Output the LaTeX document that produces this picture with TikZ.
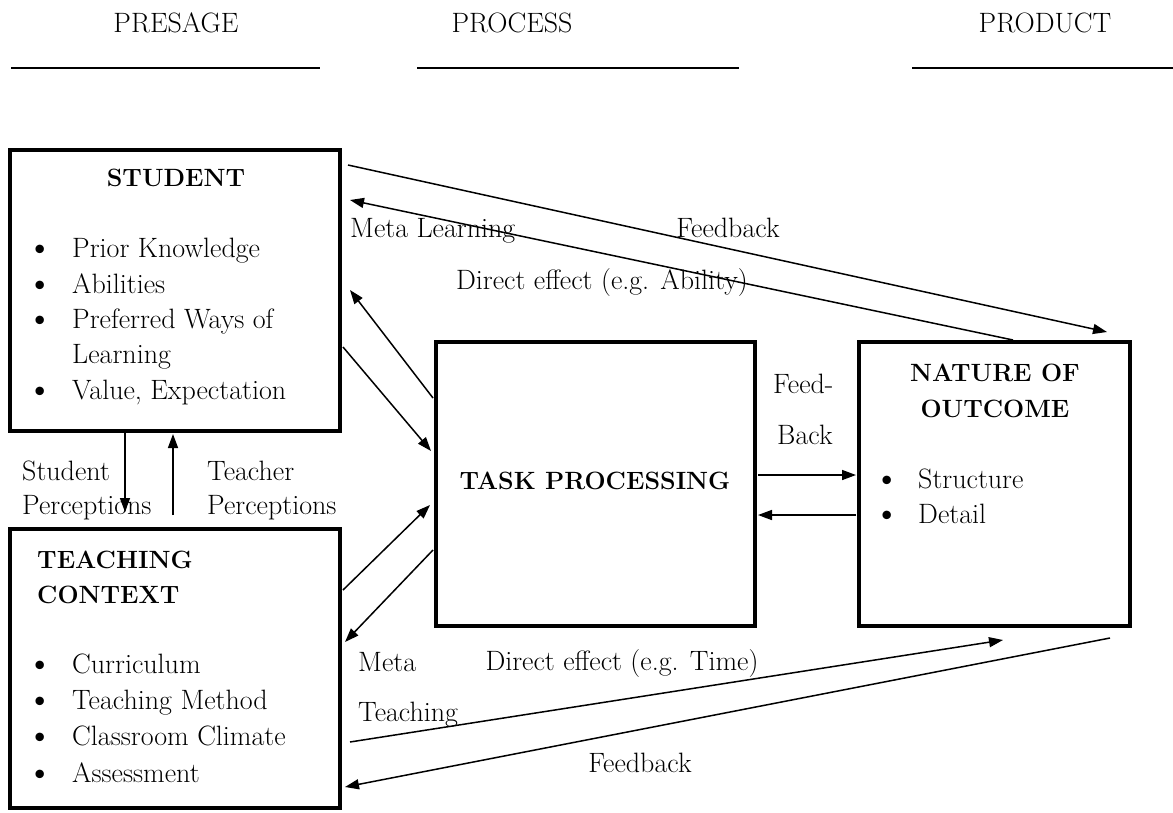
\documentclass[tikz,border=0pt]{standalone}
\usetikzlibrary{arrows.meta,positioning,calc}

\begin{document}
\begin{tikzpicture}[x=1pt, y=-1pt, font=\fontsize{28}{35}\selectfont,
  box/.style={draw, line width=4.5pt, inner sep=0pt},
  lbl/.style={anchor=base west, inner sep=0pt},
  mid/.style={anchor=base, inner sep=0pt},
  ttl/.style={anchor=base, inner sep=0pt, font=\fontsize{25}{35}\selectfont\bfseries},
  dot/.style={anchor=base, inner sep=0pt, font=\fontsize{38}{35}\selectfont},
  link/.style={line width=1.5pt, -{Triangle[length=14pt,width=10pt]}}]
  \useasboundingbox (0,0) rectangle (1173,812);

  % stage headings
  \node[mid] (presage) at (176,32) {PRESAGE};
  \node[mid] (process) at (512,32) {PROCESS};
  \node[mid] (product) at (1045,32) {PRODUCT};
  \draw[line width=1.8pt] (11,68) -- (320,68);
  \draw[line width=1.8pt] (417,68) -- (739,68);
  \draw[line width=1.8pt] (912,68) -- (1173,68);

  % boxes
  \node[box, minimum width=330pt, minimum height=281pt] (student) at (175,290.5) {};
  \node[box, minimum width=330pt, minimum height=279pt] (context) at (175,668.5) {};
  \node[box, minimum width=319pt, minimum height=284pt] (task) at (595.5,484) {};
  \node[box, minimum width=271pt, minimum height=284pt] (outcome) at (994.5,484) {};

  % student contents
  \node[ttl] (studentttl) at (176,186) {STUDENT};
  \foreach \y/\txt in {257/Prior Knowledge, 293/Abilities, 328/Preferred Ways of, 399/{Value, Expectation}} {
    \node[dot] at (40,\y+2) {\textbullet};
    \node[lbl] at (72,\y) {\txt};
  }
  \node[lbl] (learning) at (72,363) {Learning};

  % teaching context contents
  \node[lbl, font=\fontsize{25}{35}\selectfont\bfseries] (ctxa) at (37,568) {TEACHING};
  \node[lbl, font=\fontsize{25}{35}\selectfont\bfseries] (ctxb) at (37,603) {CONTEXT};
  \foreach \y/\txt in {673/Curriculum, 709/Teaching Method, 745/Classroom Climate, 782/Assessment} {
    \node[dot] at (40,\y+2) {\textbullet};
    \node[lbl] at (72,\y) {\txt};
  }

  % task processing
  \node[ttl] (taskttl) at (595,489) {TASK PROCESSING};

  % nature of outcome
  \node[ttl] (outa) at (995,381) {NATURE OF};
  \node[ttl] (outb) at (995,417) {OUTCOME};
  \foreach \y/\txt in {488/Structure, 523/Detail} {
    \node[dot] at (887,\y+2) {\textbullet};
    \node[lbl] at (918,\y) {\txt};
  }

  % connector ends
  \coordinate (sfbA) at (348,165);   \coordinate (sfbB) at (1107,332);
  \coordinate (mlA) at (1013,340);   \coordinate (mlB) at (350,200);
  \coordinate (tsA) at (433,398);    \coordinate (tsB) at (350,290);
  \coordinate (stA) at (343,347);    \coordinate (stB) at (431,451);
  \coordinate (ctA) at (343,590);    \coordinate (ctB) at (430,505);
  \coordinate (tcA) at (433,550);    \coordinate (tcB) at (345,642);
  \coordinate (mtA) at (350,742);    \coordinate (mtB) at (1003,640);
  \coordinate (ofbA) at (1110,638);  \coordinate (ofbB) at (345,787);
  \coordinate (toA) at (758,475);    \coordinate (toB) at (856,475);
  \coordinate (otA) at (856,515);    \coordinate (otB) at (758,515);
  \coordinate (spA) at (125,433);    \coordinate (spB) at (125,512);
  \coordinate (tpA) at (173,515);    \coordinate (tpB) at (173,434);

  % connectors
  \draw[link] (sfbA) -- (sfbB);
  \draw[link] (mlA) -- (mlB);
  \draw[link] (tsA) -- (tsB);
  \draw[link] (stA) -- (stB);
  \draw[link] (ctA) -- (ctB);
  \draw[link] (tcA) -- (tcB);
  \draw[link] (mtA) -- (mtB);
  \draw[link] (ofbA) -- (ofbB);
  \draw[link] (toA) -- (toB);
  \draw[link] (otA) -- (otB);
  \draw[link] (spA) -- (spB);
  \draw[link] (tpA) -- (tpB);

  % connector labels
  \node[lbl] (metalearn) at (350,237) {Meta Learning};
  \node[mid] (fbtop) at (728,237) {Feedback};
  \node[mid] (direct) at (602,289) {Direct effect (e.g. Ability)};
  \node[lbl] (feed) at (773,393) {Feed-};
  \node[lbl] (back) at (777,444) {Back};
  \node[lbl] (stuper) at (22,480) {Student};
  \node[lbl] (stuperb) at (22,514) {Perceptions};
  \node[lbl] (teaper) at (207,480) {Teacher};
  \node[lbl] (teaperb) at (207,514) {Perceptions};
  \node[lbl] (meta) at (358,671) {Meta};
  \node[lbl] (teaching) at (358,721) {Teaching};
  \node[mid] (directtime) at (622,670) {Direct effect (e.g. Time)};
  \node[mid] (fbbot) at (640,772) {Feedback};
\end{tikzpicture}
\end{document}
